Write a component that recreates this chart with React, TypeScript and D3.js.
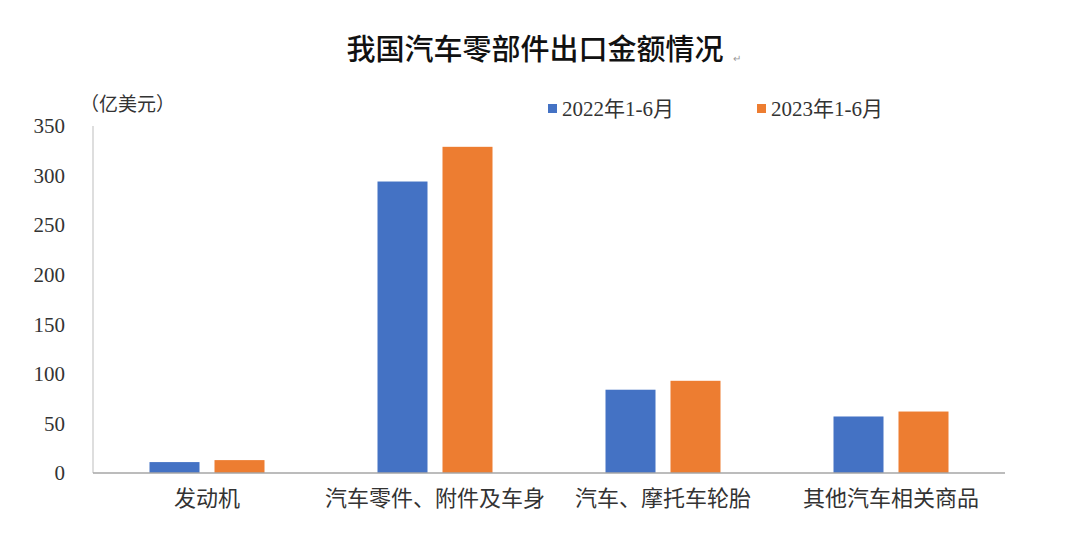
import React, { useEffect, useRef } from 'react';
import * as d3 from 'd3';

const categories = ['发动机', '汽车零件、附件及车身', '汽车、摩托车轮胎', '其他汽车相关商品'];
const seriesNames = ['2022年1-6月', '2023年1-6月'];
const values2022 = [11, 294, 84, 57];
const values2023 = [13, 329, 93, 62];
const yTicks = [0, 50, 100, 150, 200, 250, 300, 350];
const colors = ['#4472c4', '#ed7d31'];

const FONT = '"Liberation Serif", "Noto Sans CJK SC", serif';

export default function App() {
  const svgRef = useRef<SVGSVGElement>(null);

  useEffect(() => {
    if (!svgRef.current) return;
    const svg = d3.select(svgRef.current);
    svg.selectAll('*').remove();

    const width = 1080;
    const height = 543;
    const margin = { left: 93, right: 75, top: 126, bottom: 70 };

    svg.append('rect').attr('width', width).attr('height', height).attr('fill', '#fff');

    const x0 = d3.scaleBand<string>()
      .domain(categories)
      .range([margin.left, width - margin.right])
      .paddingInner(0)
      .paddingOuter(0);

    // 组内两根柱子：宽 50，间距 15，居中
    const inner = 115;
    const x1 = d3.scaleBand<string>()
      .domain(seriesNames)
      .range([(x0.bandwidth() - inner) / 2, (x0.bandwidth() + inner) / 2])
      .paddingInner(15 / 65)
      .paddingOuter(0);

    const y = d3.scaleLinear()
      .domain([0, 350])
      .range([height - margin.bottom, margin.top]);

    // 标题
    svg.append('text')
      .attr('x', 535)
      .attr('y', 60)
      .attr('text-anchor', 'middle')
      .attr('font-family', '"Noto Sans CJK SC", serif')
      .attr('font-size', 29)
      .attr('font-weight', 500)
      .attr('fill', '#111')
      .text('我国汽车零部件出口金额情况');
    svg.append('text')
      .attr('x', 733)
      .attr('y', 62)
      .attr('font-family', FONT)
      .attr('font-size', 10)
      .attr('fill', '#999')
      .text('↵');

    // 单位
    svg.append('text')
      .attr('x', 80)
      .attr('y', 111)
      .attr('font-family', FONT)
      .attr('font-size', 19)
      .attr('fill', '#333')
      .text('（亿美元）');

    // 柱子
    const groups = svg.append('g')
      .selectAll('g')
      .data(categories)
      .join('g')
      .attr('transform', d => `translate(${x0(d)},0)`);

    groups.selectAll('rect')
      .data((d, i) => seriesNames.map((s, j) => ({ s, v: j === 0 ? values2022[i] : values2023[i], j })))
      .join('rect')
      .attr('x', d => x1(d.s) as number)
      .attr('width', x1.bandwidth())
      .attr('y', d => y(d.v))
      .attr('height', d => y(0) - y(d.v))
      .attr('fill', d => colors[d.j]);

    // 坐标轴
    svg.append('line')
      .attr('x1', margin.left).attr('x2', margin.left)
      .attr('y1', y(350)).attr('y2', y(0))
      .attr('stroke', '#c8c8c8').attr('stroke-width', 1.2);
    svg.append('line')
      .attr('x1', margin.left).attr('x2', width - margin.right)
      .attr('y1', y(0)).attr('y2', y(0))
      .attr('stroke', '#a6a6a6').attr('stroke-width', 1.5);

    svg.append('g')
      .selectAll('text')
      .data(yTicks)
      .join('text')
      .attr('x', 65)
      .attr('y', d => y(d))
      .attr('dy', '0.35em')
      .attr('text-anchor', 'end')
      .attr('font-family', FONT)
      .attr('font-size', 21)
      .attr('fill', '#333')
      .text(d => d);

    svg.append('g')
      .selectAll('text')
      .data(categories)
      .join('text')
      .attr('x', d => (x0(d) as number) + x0.bandwidth() / 2)
      .attr('y', y(0) + 33)
      .attr('text-anchor', 'middle')
      .attr('font-family', FONT)
      .attr('font-size', 22)
      .attr('fill', '#333')
      .text(d => d);

    // 图例
    const legendX = [548, 757];
    const legend = svg.append('g')
      .selectAll('g')
      .data(seriesNames)
      .join('g')
      .attr('transform', (d, i) => `translate(${legendX[i]},104)`);
    legend.append('rect')
      .attr('width', 9).attr('height', 9)
      .attr('fill', (d, i) => colors[i]);
    legend.append('text')
      .attr('x', 14)
      .attr('y', 4.5)
      .attr('dy', '0.36em')
      .attr('font-family', FONT)
      .attr('font-size', 21)
      .attr('fill', '#333')
      .text(d => d);
  }, []);

  return (
    <svg ref={svgRef} width={1080} height={543} style={{ display: 'block', margin: -8 }} />
  );
}
